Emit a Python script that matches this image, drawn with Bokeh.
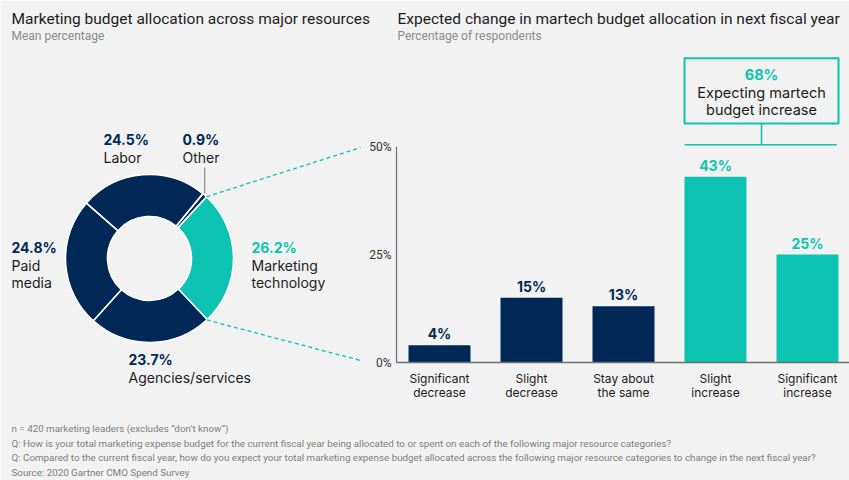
import math
from bokeh.plotting import figure
from bokeh.models import Range1d
from bokeh.core.properties import value
from bokeh.embed import file_html
from bokeh.resources import INLINE

# ---------------- data ----------------
alloc_names = ["Marketing\ntechnology", "Other", "Labor", "Paid\nmedia", "Agencies/services"]
alloc_values = [26.2, 0.9, 24.5, 24.8, 23.7]
change_cats = ["Significant\ndecrease", "Slight\ndecrease", "Stay about\nthe same",
               "Slight\nincrease", "Significant\nincrease"]
change_values = [4, 15, 13, 43, 25]
y_ticks = [0, 25, 50]
y_tick_labels = ["0%", "25%", "50%"]
increase_idx = [3, 4]
increase_text = ["Expecting martech", "budget increase"]

title_left = "Marketing budget allocation across major resources"
sub_left = "Mean percentage"
title_right = "Expected change in martech budget allocation in next fiscal year"
sub_right = "Percentage of respondents"
footnotes = [
    "n = 420 marketing leaders (excludes \u201cdon\u2019t know\u201d)",
    "Q: How is your total marketing expense budget for the current fiscal year being allocated to or spent on each of the following major resource categories?",
    "Q: Compared to the current fiscal year, how do you expect your total marketing expense budget allocated across the following major resource categories to change in the next fiscal year?",
    "Source: 2020 Gartner CMO Spend Survey",
]

# ---------------- styles ----------------
NAVY = "#002856"
TEAL = "#0bc3b0"
BG = "#f2f2f2"
TXT = "#1c1c1c"
SUB = "#8a8a8a"
FOOT = "#7d7d7d"
AXIS = "#6e6e6e"
SANS = value("Inter")
ROB = value("Roboto")

W, H = 849, 480
p = figure(width=W, height=H, output_backend="svg", toolbar_location=None,
           x_range=Range1d(0, W), y_range=Range1d(H, 0),
           x_axis_location=None, y_axis_location=None, min_border=0,
           background_fill_color=BG, border_fill_color=BG, outline_line_color=None)
p.grid.visible = False

# bar-chart scales (placed inside the same canvas)
px_per_pct = 4.32
zero_y = 362.0
p.extra_y_ranges = {"pct": Range1d((zero_y - H) / px_per_pct, zero_y / px_per_pct)}
first_center, step = 439.0, 92.0
p.extra_x_ranges = {"idx": Range1d((0 - first_center) / step, (W - first_center) / step)}
bar_w = 62.0 / step

# ---------------- titles ----------------
p.text(x=[11, 397], y=[18, 18], text=[title_left, title_right], text_font=ROB,
       text_font_size="15.5px", text_color=TXT, text_baseline="middle")
p.text(x=[11, 397], y=[35, 35], text=[sub_left, sub_right], text_font=ROB,
       text_font_size="12px", text_color=SUB, text_baseline="middle")

# ---------------- donut ----------------
cx, cy, r_out, r_in = 149, 258, 84, 42
start = -47.0
starts, ends = [], []
a = start
for v in alloc_values:
    starts.append(math.radians(a))
    a += v / 100.0 * 360.0
    ends.append(math.radians(a))
colors = [TEAL, NAVY, NAVY, NAVY, NAVY]
p.annular_wedge(x=[cx] * len(alloc_values), y=[cy] * len(alloc_values),
                inner_radius=r_in, outer_radius=r_out,
                start_angle=starts, end_angle=ends, fill_color=colors,
                line_color="white", line_width=1.6)

# leader for "Other"
mid_other = (starts[1] + ends[1]) / 2
ox = cx + r_out * math.cos(mid_other)
oy = cy - r_out * math.sin(mid_other)
p.segment(x0=[ox], y0=[oy - 2], x1=[ox], y1=[167], line_color="#9a9a9a", line_width=1.5)

# dashed connectors from the martech wedge to the bar axis
tx0 = cx + r_out * math.cos(ends[0]); ty0 = cy - r_out * math.sin(ends[0])
tx1 = cx + r_out * math.cos(starts[0]); ty1 = cy - r_out * math.sin(starts[0])
p.segment(x0=[tx0, tx1], y0=[ty0, ty1], x1=[360, 360], y1=[147, 360],
          line_color=TEAL, line_width=1.3, line_dash="4 3")

# donut labels
label_pos = [(251, 247), (182, 139), (103, 139), (11, 247), (128, 359)]
for (lx, ly), name, v, c in zip(label_pos, alloc_names, alloc_values, colors):
    vc = TEAL if c == TEAL else NAVY
    p.text(x=[lx], y=[ly], text=[f"{v}%"], text_font=SANS, text_font_size="14px",
           text_font_style="bold", text_color=vc, text_baseline="middle")
    lines = name.split("\n")
    p.text(x=[lx] * len(lines), y=[ly + 17.5 * (i + 1) for i in range(len(lines))],
           text=lines, text_font=SANS, text_font_size="14px", text_color=TXT,
           text_baseline="middle")

# ---------------- bars ----------------
idx = list(range(len(change_values)))
bar_colors = [TEAL if i in increase_idx else NAVY for i in idx]
p.vbar(x=idx, top=change_values, bottom=0, width=bar_w, fill_color=bar_colors,
       line_color=None, x_range_name="idx", y_range_name="pct")
p.text(x=idx, y=[v + 11.5 / px_per_pct for v in change_values],
       text=[f"{v}%" for v in change_values], text_font=SANS, text_font_size="14px",
       text_font_style="bold", text_color=bar_colors, text_align="center",
       text_baseline="middle", x_range_name="idx", y_range_name="pct")

# category labels
for i, cat in enumerate(change_cats):
    lines = cat.split("\n")
    p.text(x=[i] * len(lines), y=[378 + 14 * k for k in range(len(lines))], text=lines,
           text_font=SANS, text_font_size="12px", text_color=TXT, text_align="center",
           text_baseline="middle", x_range_name="idx")

# axis
p.segment(x0=[396], y0=[0], x1=[396], y1=[max(y_ticks)], line_color=AXIS,
          line_width=1.2, y_range_name="pct")
p.segment(x0=[396], y0=[0], x1=[W], y1=[0], line_color=AXIS, line_width=1.5,
          y_range_name="pct")
p.text(x=[391] * len(y_ticks), y=y_ticks, text=y_tick_labels, text_font=ROB,
       text_font_size="12px", text_color="#333333", text_align="right",
       text_baseline="middle", y_range_name="pct")

# bracket for the increase group
left = min(increase_idx) - bar_w / 2
right = max(increase_idx) + bar_w / 2
mid = (min(increase_idx) + max(increase_idx)) / 2
p.segment(x0=[left, mid], y0=[50.4, 50.4], x1=[right - 0.02, mid], y1=[50.4, 55.3],
          line_color=TEAL, line_width=1.6, x_range_name="idx", y_range_name="pct")
p.quad(left=[left], right=[right], bottom=[55.3], top=[70.4], fill_color=BG,
       line_color=TEAL, line_width=2, x_range_name="idx", y_range_name="pct")
increase_sum = sum(change_values[i] for i in increase_idx)
p.text(x=[mid], y=[74], text=[f"{increase_sum}%"], text_font=SANS, text_font_size="14.5px",
       text_font_style="bold", text_color=TEAL, text_align="center",
       text_baseline="middle", x_range_name="idx")
p.text(x=[mid, mid], y=[92, 109], text=increase_text, text_font=SANS,
       text_font_size="14.5px", text_color=TXT, text_align="center",
       text_baseline="middle", x_range_name="idx")

# ---------------- footnotes ----------------
p.text(x=[11] * len(footnotes), y=[428 + 14.5 * k for k in range(len(footnotes))],
       text=footnotes, text_font=ROB, text_font_size="9.8px", text_color=FOOT,
       text_baseline="middle")

open("out.html", "w").write(file_html(p, INLINE))
